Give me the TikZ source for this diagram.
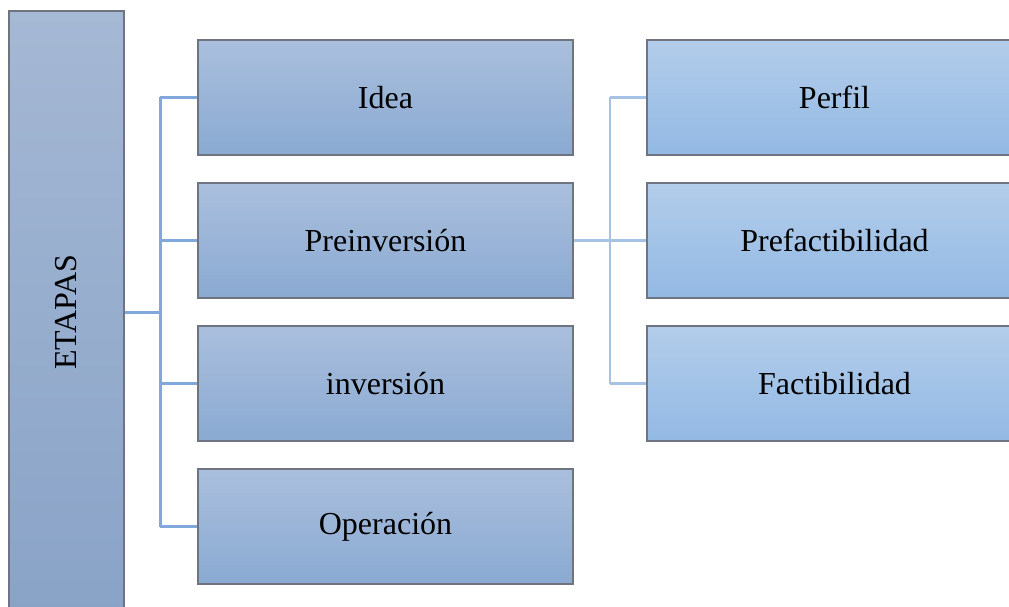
\documentclass[tikz,border=0pt]{standalone}
\usepackage{fontspec}
\setmainfont{Liberation Serif}
\definecolor{bordc}{HTML}{6E7480}
\definecolor{etop}{HTML}{A5B8D4}
\definecolor{ebot}{HTML}{89A3C7}
\definecolor{atop}{HTML}{AABFDD}
\definecolor{abot}{HTML}{8AAAD2}
\definecolor{btop}{HTML}{B3CDEA}
\definecolor{bbot}{HTML}{93B9E4}
\definecolor{linea}{HTML}{80A8DC}
\definecolor{lineb}{HTML}{A6C3E6}
\begin{document}
\begin{tikzpicture}[x=1pt,y=-1pt,
  boxa/.style={draw=bordc,line width=1.5pt,top color=atop,bottom color=abot,minimum width=375pt,minimum height=115pt,inner sep=0pt,font=\fontsize{32}{38}\selectfont},
  boxb/.style={boxa,top color=btop,bottom color=bbot},
  boxe/.style={draw=bordc,line width=1.5pt,top color=etop,bottom color=ebot,minimum width=115pt,minimum height=602pt,inner sep=0pt},
  conna/.style={draw=linea,line width=3pt},
  connb/.style={draw=lineb,line width=2.5pt}]
\useasboundingbox (0,0) rectangle (1009,607);
\clip (0,0) rectangle (1009,607);
\node[boxe] (etapas) at (66.5,312) {};
\node[rotate=90,font=\fontsize{32}{38}\selectfont] (etxt) at (66.5,312) {ETAPAS};
\node[boxa] (idea) at (385.5,97.5) {Idea};
\node[boxa] (pre) at (385.5,240.5) {Preinversión};
\node[boxa] (inv) at (385.5,383.5) {inversión};
\node[boxa] (ope) at (385.5,526.5) {Operación};
\node[boxb] (per) at (834.5,97.5) {Perfil};
\node[boxb] (pref) at (834.5,240.5) {Prefactibilidad};
\node[boxb] (fac) at (834.5,383.5) {Factibilidad};
\coordinate (ja) at (160,312);
\coordinate (jb) at (610,240.5);
\draw[conna] (etapas.east |- ja) -- (ja);
\draw[conna] (ja |- idea.west) -- (ja |- ope.west);
\foreach \n in {idea,pre,inv,ope} \draw[conna] (ja |- \n.west) -- (\n.west);
\draw[connb] (pre.east) -- (jb);
\draw[connb] (jb |- per.west) -- (jb |- fac.west);
\foreach \n in {per,pref,fac} \draw[connb] (jb |- \n.west) -- (\n.west);
\end{tikzpicture}
\end{document}
